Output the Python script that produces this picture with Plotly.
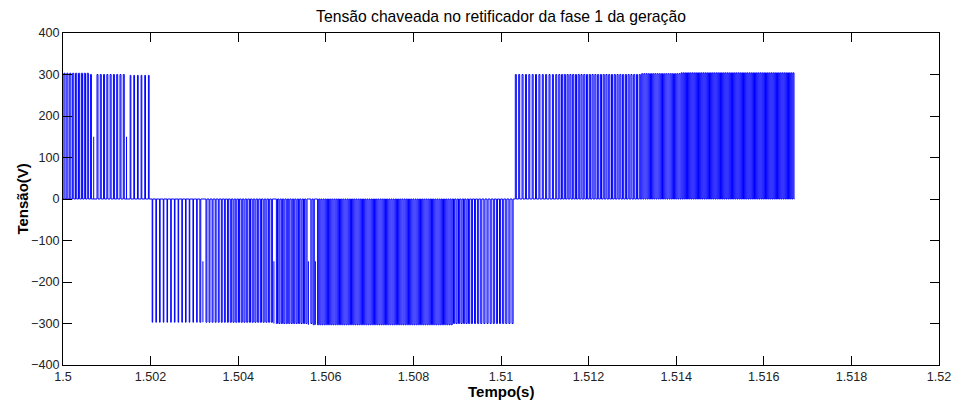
import plotly.graph_objects as go

# Switching segments of the phase-1 rectifier voltage: time window, pulse level (V),
# local switching frequency (kHz) and fraction of each period spent at the level.
seg_start = [1.5000, 1.5006, 1.5015, 1.5020, 1.5031, 1.5038, 1.5048, 1.5057,
             1.5082, 1.5089, 1.5093, 1.5103, 1.5113, 1.5132, 1.5141]
seg_end = [1.5006, 1.5015, 1.5020, 1.5031, 1.5038, 1.5048, 1.5057, 1.5082,
           1.5089, 1.5093, 1.5103, 1.5113, 1.5132, 1.5141, 1.5167]
seg_level = [303, 300, 298, -297, -297, -297, -300, -303,
             -303, -300, -300, 300, 300, 302, 304]
seg_khz = [15, 13, 13, 12, 14, 16, 18, 20, 20, 18, 14, 13, 16, 20, 24]
seg_duty = [0.40, 0.30, 0.20, 0.15, 0.30, 0.40, 0.45, 0.50,
            0.50, 0.45, 0.35, 0.30, 0.40, 0.50, 0.50]

# Incomplete transitions caught by the solver: time, start value, end value (V)
spike_t = [1.50068, 1.50146, 1.50323, 1.50481, 1.50562, 1.50578]
spike_from = [0, 0, -297, -300, -303, -303]
spike_to = [150, 150, -150, -150, -150, -150]

x_ticks = [1.5, 1.502, 1.504, 1.506, 1.508, 1.51, 1.512, 1.514, 1.516, 1.518, 1.52]
x_labels = ["1.5", "1.502", "1.504", "1.506", "1.508", "1.51", "1.512",
            "1.514", "1.516", "1.518", "1.52"]
y_ticks = [-400, -300, -200, -100, 0, 100, 200, 300, 400]

# Build the switched waveform segment by segment, one pulse per switching period
xs, ys = [seg_start[0]], [0.0]
for a, b, level, khz, duty in zip(seg_start, seg_end, seg_level, seg_khz, seg_duty):
    n = max(1, round((b - a) * khz * 1000))
    period = (b - a) / n
    for k in range(n):
        mid = a + (k + 0.5) * period
        on = mid - duty * period / 2
        off = mid + duty * period / 2
        hit = [j for j, st in enumerate(spike_t) if abs(st - mid) < period / 2]
        if hit:
            j = hit[0]
            xs += [on, None, on, on, None, on]
            ys += [0.0, None, spike_from[j], spike_to[j], None, 0.0]
        else:
            xs += [on, on, off, off]
            ys += [0.0, level, level, 0.0]
xs.append(seg_end[-1])
ys.append(0.0)

fig = go.Figure()
fig.add_trace(go.Scatter(x=xs, y=ys, mode="lines", connectgaps=False,
                         line=dict(color="#0000ff", width=1),
                         hoverinfo="skip", showlegend=False))

font = "Liberation Sans, Arial, Helvetica, sans-serif"
axis_common = dict(showline=True, linecolor="black", linewidth=1, mirror="ticks",
                   ticks="inside", ticklen=9, tickcolor="black", tickwidth=1,
                   showgrid=False, zeroline=False, ticklabeloverflow="allow",
                   tickfont=dict(family=font, size=12.6, color="#222"))

W, H = 957, 400
L, R, T, B = 63, 6, 33, 35
plot_h = H - T - B
plot_w = W - L - R
fig.update_layout(
    width=W, height=H, autosize=False,
    margin=dict(l=L, r=R, t=T, b=B),
    paper_bgcolor="white", plot_bgcolor="white",
    xaxis=dict(range=[1.5, 1.52], tickvals=x_ticks, ticktext=x_labels, **axis_common),
    yaxis=dict(range=[-400, 400], tickvals=y_ticks, **axis_common),
    title=dict(text="Tensão chaveada no retificador da fase 1 da geração",
               x=0.5, xref="paper", y=1 - 16.5 / H, yref="container",
               xanchor="center", yanchor="middle",
               font=dict(family=font, size=15.7, color="black")),
    annotations=[
        dict(text="<b>Tempo(s)</b>", x=0.5, xref="paper", y=-27 / plot_h, yref="paper",
             xanchor="center", yanchor="middle", showarrow=False,
             font=dict(family=font, size=15, color="black")),
        dict(text="<b>Tensão(V)</b>", x=(21 - L) / plot_w, xref="paper", y=0.5,
             yref="paper", xanchor="center", yanchor="middle", textangle=-90,
             showarrow=False, font=dict(family=font, size=15, color="black")),
    ],
)

fig.write_html("out.html", config={"responsive": False})
